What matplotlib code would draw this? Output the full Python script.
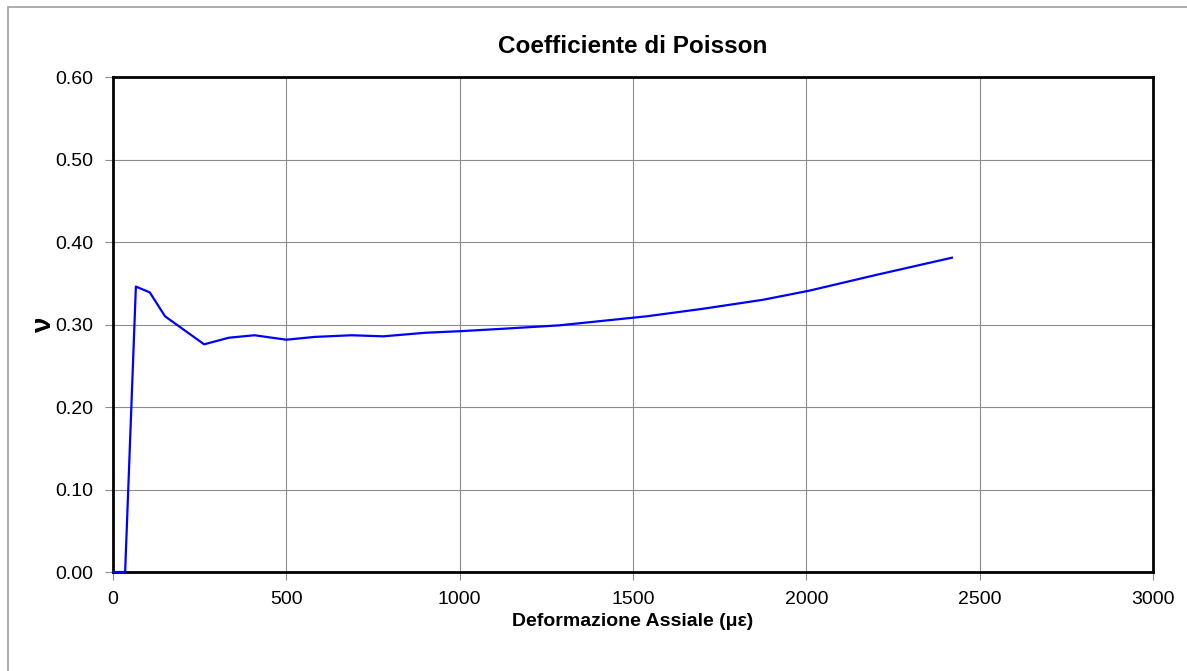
import matplotlib
matplotlib.use('Agg')
import matplotlib.pyplot as plt
from matplotlib.patches import Rectangle

# deformazione assiale (microstrain) e coefficiente di Poisson
strain = [0, 35, 66, 106, 150, 263, 334, 408, 500, 582, 688, 780, 900, 1005,
          1130, 1287, 1540, 1700, 1875, 2008, 2200, 2420]
poisson = [0.0, 0.0, 0.346, 0.339, 0.310, 0.276, 0.284, 0.287, 0.2816, 0.285,
           0.287, 0.2857, 0.290, 0.292, 0.295, 0.299, 0.310, 0.319, 0.330,
           0.341, 0.360, 0.381]

xticks = [0, 500, 1000, 1500, 2000, 2500, 3000]
yticks = [0.0, 0.1, 0.2, 0.3, 0.4, 0.5, 0.6]

plt.rcParams['font.family'] = ['Liberation Sans', 'DejaVu Sans']

fig = plt.figure(figsize=(11.87, 6.71), dpi=100)
# outer frame: only top and left edges are visible in the picture
fig.patches.append(Rectangle((0.0067, -0.2), 2.0, 1.1896, transform=fig.transFigure,
                             fill=False, edgecolor='#a0a0a0', linewidth=1.2))
ax = fig.add_axes([0.0952, 0.1475, 0.8762, 0.7377])

ax.plot(strain, poisson, color='#0000ff', linewidth=1.6, zorder=3, clip_on=False)

ax.set_xlim(0, 3000)
ax.set_ylim(0, 0.6)
ax.set_xticks(xticks)
ax.set_yticks(yticks)
ax.set_yticklabels(['%.2f' % v for v in yticks])
ax.grid(True, color='#8c8c8c', linewidth=0.8)
ax.set_axisbelow(True)
for s in ax.spines.values():
    s.set_linewidth(2)
    s.set_color('black')
ax.tick_params(axis='both', direction='out', length=6, width=0.8, color='#8c8c8c',
               labelsize=14)
ax.tick_params(axis='y', pad=8)
ax.tick_params(axis='x', pad=8)

ax.set_title('Coefficiente di Poisson', fontsize=17.5, fontweight='bold', pad=17)
ax.set_xlabel('Deformazione Assiale (\u03bc\u03b5)', fontsize=14, fontweight='bold', labelpad=3)
ax.set_ylabel('\u03bd', fontsize=20, fontweight='bold', labelpad=-1)

fig.savefig('out.png', dpi=100)
